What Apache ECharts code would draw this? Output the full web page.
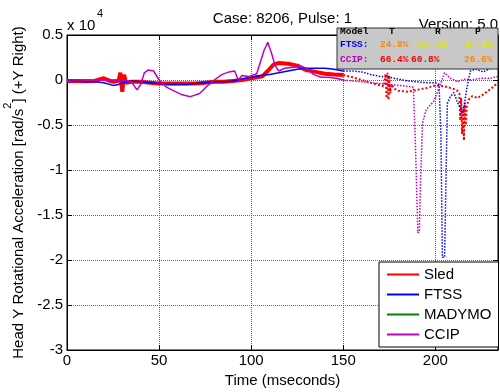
<!DOCTYPE html>
<html><head><meta charset="utf-8">
<script src="https://cdn.jsdelivr.net/npm/echarts@6/dist/echarts.min.js"></script>
<style>html,body{margin:0;padding:0;background:#fff}#c{width:500px;height:392px}</style>
</head><body><div id="c"></div>
<script>
// values in units of 1e4 rad/s^2
const sledT = [0,5,10,15,18,20,22,25,28,29,30,31,32,35,40,45,50,55,60,65,70,75,80,85,90,95,100,103,106,109,112,115,120,125,130,135,140,145,150];
const sledV = [-0.01,-0.01,-0.015,-0.01,0.01,0.02,0.0,-0.02,-0.01,0.08,-0.13,0.06,-0.03,-0.02,-0.02,-0.03,-0.04,-0.04,-0.04,-0.04,-0.04,-0.03,-0.02,-0.02,-0.01,0.0,0.02,0.03,0.04,0.1,0.17,0.19,0.18,0.16,0.11,0.09,0.07,0.06,0.055];
const sledDotT = [150,155,160,165,170,172,173,173.5,174,174.5,175,175.5,176,178,180,185,190,195,200,205,210,212,213,213.5,214,214.5,215,215.5,216,216.5,217,218,220,223,226,230,234];
const sledDotV = [0.055,0.03,0.0,-0.03,-0.06,-0.07,0.07,-0.2,0.08,-0.22,0.05,-0.15,-0.05,-0.1,-0.12,-0.13,-0.11,-0.09,-0.06,-0.07,-0.1,-0.12,-0.15,-0.45,-0.2,-0.6,-0.3,-0.67,-0.25,-0.5,-0.3,-0.22,-0.18,-0.2,-0.16,-0.1,-0.03];

const ftssT = [0,5,10,15,20,25,28,30,35,40,45,50,55,60,65,70,75,80,85,90,95,100,105,110,115,120,125,130,135,140,145,150];
const ftssV = [0,-0.01,-0.02,-0.02,-0.03,-0.06,-0.05,-0.03,-0.01,-0.02,-0.03,-0.04,-0.05,-0.05,-0.05,-0.04,-0.03,-0.02,-0.02,-0.01,0.01,0.03,0.05,0.06,0.08,0.1,0.12,0.13,0.13,0.13,0.12,0.1];
const ftssDotT = [150,155,160,165,170,175,180,185,190,195,200,202,203,203.8,205,206.5,208,210,212,215,217,219,222,226,230,234];
const ftssDotV = [0.1,0.1,0.09,0.06,0.04,0.03,0.01,-0.01,-0.02,-0.03,-0.03,-0.05,-0.6,-1.97,-1.97,-0.26,-0.19,-0.14,-0.25,-0.37,-0.1,0.1,0.12,0.09,0.13,0.19];

const madymoT = [];
const madymoV = [];

const ccipT = [0,10,20,30,35,38,40,42,44,47,50,54,58,62,67,72,76,80,84,88,91,93,95,99,103,107,109,111,113,115,118,122,126,130,134,138,142,146,150];
const ccipV = [0,0,0,0,-0.02,-0.11,-0.05,0.08,0.11,0.1,0.0,-0.08,-0.12,-0.16,-0.185,-0.15,-0.07,0.0,0.06,0.09,0.1,0.0,0.05,0.04,0.07,0.33,0.42,0.3,0.16,0.1,0.13,0.14,0.15,0.13,0.06,0.03,0.03,0.02,0.0];
const ccipDotT = [150,155,160,165,170,175,180,185,188,189,190.5,191.3,192,193,195,199,201,203,205,208,212,216,220,225,230,234];
const ccipDotV = [0.0,-0.01,-0.02,-0.03,-0.04,-0.05,-0.06,-0.07,-0.08,-0.6,-1.7,-1.67,-1.1,-0.48,-0.33,-0.24,-0.14,-0.03,0.08,0.02,-0.02,0.01,0.0,0.02,0.02,0.04];

const seriesNames = ['Sled','FTSS','MADYMO','CCIP'];
const seriesColors = ['#ff0000','#0000ff','#008000','#c000c0'];

const tableHeader = ['Model','T','R','P'];
const ftssRow = ['FTSS:','24.8%','-17.1%','17.9%'];
const ccipRow = ['CCIP:','66.4%','60.8%','26.6%'];

const titleText = 'Case: 8206, Pulse: 1';
const versionText = 'Version: 5.0';

function zip(t, v){ return t.map((x,i)=>[x, v[i]]); }

const FONT = 'Liberation Sans';
const chart = echarts.init(document.getElementById('c'), null, {renderer:'canvas'});

function lineSeries(name, color, t, v, width, dotted){
  return {
    type:'line', name:name, data:zip(t,v), symbol:'none', showSymbol:false,
    animation:false, silent:true,
    lineStyle:{color:color, width:width, type: dotted ? 'dotted' : 'solid'},
    itemStyle:{color:color}
  };
}

const axisCommon = {
  axisLine:{show:true, onZero:false, lineStyle:{color:'#000', width:1}},
  axisTick:{show:true, inside:true, length:5, lineStyle:{color:'#000'}}
};

const mono = 'bold 9.5px "Liberation Mono"';
const rowY = [32, 45, 60];
const colX = [[340,389,435,475],[340,380,414,465],[340,380,411,464]];
const rowColors = [
  ['#000','#000','#000','#000'],
  ['#0000ff','#ff8800','#e6e600','#e6e600'],
  ['#c000c0','#ff0000','#ff0000','#ff8800']
];
const rows = [tableHeader, ftssRow, ccipRow];
const tableTexts = [];
rows.forEach((r,ri)=>r.forEach((s,ci)=>{
  tableTexts.push({type:'text', x:colX[ri][ci], y:rowY[ri], z:101,
    style:{text:s, font:mono, fill:rowColors[ri][ci], align:'left', verticalAlign:'middle'}});
}));

const option = {
  animation:false,
  textStyle:{fontFamily:FONT},
  grid:{left:67, right:2, top:35, bottom:42, show:true, borderColor:'#000', borderWidth:1, backgroundColor:'#fff',
        containLabel:false, outerBoundsMode:'none'},
  xAxis:[
    Object.assign({type:'value', min:0, max:234, interval:50, position:'bottom',
      axisLabel:{fontSize:15, color:'#000', margin:3, fontFamily:FONT,
        formatter:v => (v % 50 === 0 ? String(v) : '')},
      splitLine:{show:true, showMinLine:false, showMaxLine:false, lineStyle:{type:'dotted', color:'#666', width:1}},
      name:'Time (mseconds)', nameLocation:'middle', nameGap:21,
      nameTextStyle:{fontSize:15, color:'#000', fontFamily:FONT}
    }, axisCommon),
    Object.assign({type:'value', min:0, max:234, interval:50, position:'top',
      axisLabel:{show:false}, splitLine:{show:false}}, axisCommon)
  ],
  yAxis:[
    Object.assign({type:'value', min:-3, max:0.5, interval:0.5, position:'left',
      axisLabel:{fontSize:15, color:'#000', margin:4, fontFamily:FONT},
      splitLine:{show:true, showMinLine:false, showMaxLine:false, lineStyle:{type:'dotted', color:'#666', width:1}},
      name:'{a|Head Y Rotational Acceleration [rad/s}{s|2}{a|] (+Y Right)}',
      nameLocation:'middle', nameGap:34, nameRotate:90,
      nameTextStyle:{color:'#000', fontFamily:FONT,
        rich:{a:{fontSize:15, color:'#000', fontFamily:FONT, verticalAlign:'bottom', lineHeight:24},
              s:{fontSize:11, color:'#000', fontFamily:FONT, verticalAlign:'top', lineHeight:24}}}
    }, axisCommon),
    Object.assign({type:'value', min:-3, max:0.5, interval:0.5, position:'right',
      axisLabel:{show:false}, splitLine:{show:false}}, axisCommon)
  ],
  legend:{
    data:seriesNames, orient:'vertical', left:379, top:262,
    itemWidth:32, itemHeight:14, itemGap:5, padding:[5,7,5,7],
    backgroundColor:'#fff', borderColor:'#000', borderWidth:1,
    textStyle:{fontSize:15, color:'#000', fontFamily:FONT},
    itemStyle:{color:'rgba(0,0,0,0)', borderWidth:0, opacity:0},
    selectedMode:false, z:50
  },
  series:[
    lineSeries('Sled', seriesColors[0], sledT, sledV, 4, false),
    lineSeries('Sled', seriesColors[0], sledDotT, sledDotV, 2, true),
    lineSeries('FTSS', seriesColors[1], ftssT, ftssV, 1.5, false),
    lineSeries('FTSS', seriesColors[1], ftssDotT, ftssDotV, 1.5, true),
    lineSeries('MADYMO', seriesColors[2], madymoT, madymoV, 1.5, false),
    lineSeries('CCIP', seriesColors[3], ccipT, ccipV, 1.5, false),
    lineSeries('CCIP', seriesColors[3], ccipDotT, ccipDotV, 1.5, true)
  ],
  graphic:[
    {type:'text', x:282.5, y:18.5, style:{text:titleText, font:'15px "Liberation Sans"', fill:'#000', align:'center', verticalAlign:'middle'}},
    {type:'text', x:498, y:24.5, style:{text:versionText, font:'15px "Liberation Sans"', fill:'#000', align:'right', verticalAlign:'middle'}},
    {type:'text', x:67, y:26, style:{text:'x 10', font:'15px "Liberation Sans"', fill:'#000', align:'left', verticalAlign:'middle'}},
    {type:'text', x:97, y:14, style:{text:'4', font:'11px "Liberation Sans"', fill:'#000', align:'left', verticalAlign:'middle'}},
    {type:'rect', z:100, shape:{x:337, y:28, width:161, height:41}, style:{fill:'#c8c8c8', stroke:'#333', lineWidth:1}}
  ].concat(tableTexts)
};
chart.setOption(option);
</script>
</body></html>
